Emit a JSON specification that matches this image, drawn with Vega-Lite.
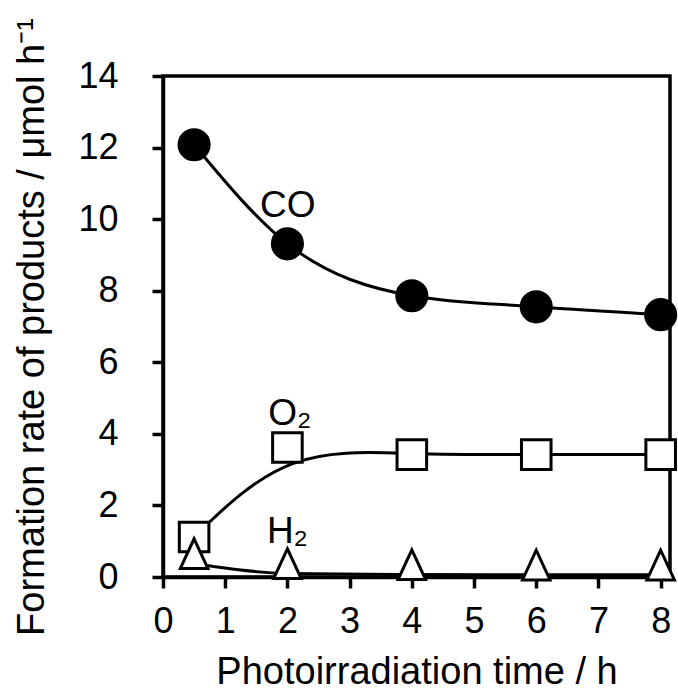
{
  "$schema": "https://vega.github.io/schema/vega-lite/v6.json",
  "width": 507,
  "height": 501,
  "autosize": "none",
  "padding": {"left": 163, "top": 76, "right": 8, "bottom": 118},
  "background": "white",
  "config": {
    "view": {"stroke": "black", "strokeWidth": 3.5},
    "font": "Liberation Sans",
    "axis": {
      "labelFont": "Liberation Sans",
      "titleFont": "Liberation Sans",
      "labelColor": "black",
      "titleColor": "black",
      "domainColor": "black",
      "tickColor": "black",
      "domainWidth": 3.5,
      "tickWidth": 3.5,
      "tickSize": 11,
      "labelFontSize": 36,
      "titleFontSize": 38,
      "titleFontWeight": "normal",
      "grid": false
    }
  },
  "datasets": {
    "rates": [
      {"series": "CO", "time": 0.5, "rate": 12.08},
      {"series": "CO", "time": 2, "rate": 9.31},
      {"series": "CO", "time": 4, "rate": 7.86},
      {"series": "CO", "time": 6, "rate": 7.55},
      {"series": "CO", "time": 8, "rate": 7.33},
      {"series": "O2", "time": 0.5, "rate": 1.12},
      {"series": "O2", "time": 2, "rate": 3.62},
      {"series": "O2", "time": 4, "rate": 3.42},
      {"series": "O2", "time": 6, "rate": 3.42},
      {"series": "O2", "time": 8, "rate": 3.42},
      {"series": "H2", "time": 0.5, "rate": 0.38},
      {"series": "H2", "time": 2, "rate": 0.1},
      {"series": "H2", "time": 4, "rate": 0.07},
      {"series": "H2", "time": 6, "rate": 0.06},
      {"series": "H2", "time": 8, "rate": 0.06}
    ],
    "labels": [
      {"text": "CO", "time": 1.56, "rate": 10.07},
      {"text": "O₂", "time": 1.69, "rate": 4.25},
      {"text": "H₂", "time": 1.67, "rate": 0.95}
    ]
  },
  "encoding": {
    "x": {
      "field": "time",
      "type": "quantitative",
      "scale": {"domain": [0, 8.15], "nice": false, "zero": false},
      "axis": {
        "values": [0, 1, 2, 3, 4, 5, 6, 7, 8],
        "labelPadding": 16,
        "labelFlush": false,
        "title": "Photoirradiation time / h",
        "titlePadding": 14
      }
    },
    "y": {
      "field": "rate",
      "type": "quantitative",
      "scale": {"domain": [0, 14], "nice": false},
      "axis": {
        "values": [0, 2, 4, 6, 8, 10, 12, 14],
        "labelPadding": 34,
        "labelFlush": false,
        "title": "Formation rate of products / μmol h⁻¹",
        "titlePadding": 26
      }
    }
  },
  "layer": [
    {
      "data": {"name": "rates"},
      "transform": [{"filter": "datum.series !== 'O2'"}],
      "mark": {"type": "line", "interpolate": "monotone", "color": "black", "strokeWidth": 3},
      "encoding": {"detail": {"field": "series"}}
    },
    {
      "data": {"name": "rates"},
      "transform": [{"filter": "datum.series === 'O2'"}],
      "mark": {"type": "line", "interpolate": "basis", "color": "black", "strokeWidth": 3},
      "encoding": {}
    },
    {
      "data": {"name": "rates"},
      "mark": {"type": "point", "filled": false, "stroke": "black", "strokeWidth": 3, "opacity": 1},
      "encoding": {
        "shape": {
          "field": "series",
          "type": "nominal",
          "scale": {"domain": ["CO", "O2", "H2"], "range": ["circle", "square", "M0,-1.7L-0.95,0.35L0.95,0.35Z"]},
          "legend": null
        },
        "fill": {
          "field": "series",
          "type": "nominal",
          "scale": {"domain": ["CO", "O2", "H2"], "range": ["black", "white", "white"]},
          "legend": null
        },
        "size": {
          "field": "series",
          "type": "nominal",
          "scale": {"domain": ["CO", "O2", "H2"], "range": [908, 841, 800]},
          "legend": null
        }
      }
    },
    {
      "data": {"name": "labels"},
      "mark": {"type": "text", "align": "left", "baseline": "alphabetic", "fontSize": 37, "font": "Liberation Sans", "color": "black"},
      "encoding": {"text": {"field": "text"}}
    }
  ]
}
